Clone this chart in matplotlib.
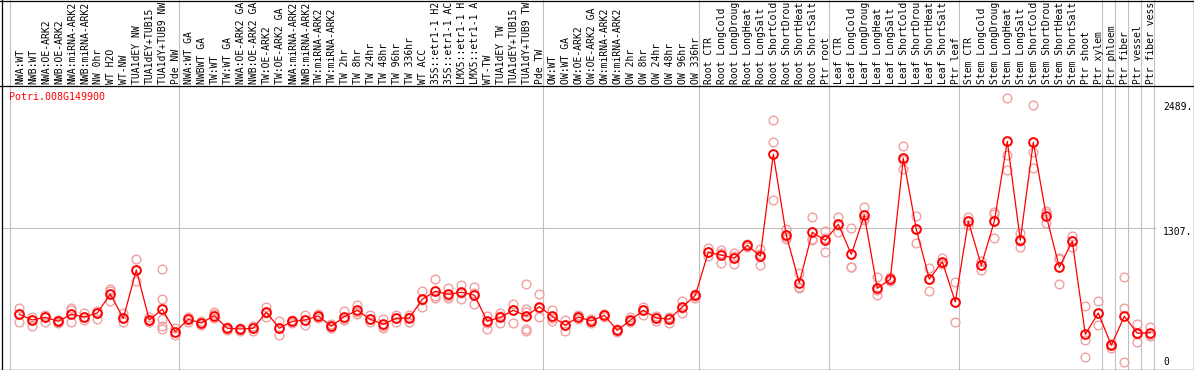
import matplotlib.pyplot as plt
from matplotlib.lines import Line2D

gene = 'Potri.008G149900'

# sample labels, one per column, split into the boxed groups
group_labels = [
    ['NWA:WT', 'NWB:WT', 'NWA:OE-ARK2', 'NWB:OE-ARK2', 'NWA:miRNA-ARK2',
     'NWB:miRNA-ARK2', 'NW 0hr', 'WT H2O', 'WT-NW', 'TUA1dEY NW',
     'TUA1dEY+TUB15', 'TUA1dY+TUB9 NW', 'Pde NW'],
    ['NWA:WT GA', 'NWBWT GA', 'TW:WT', 'TW:WT GA', 'NWA:OE-ARK2 GA',
     'NWB:OE-ARK2 GA', 'TW:OE-ARK2', 'TW:OE-ARK2 GA', 'NWA:miRNA-ARK2',
     'NWB:miRNA-ARK2', 'TW:miRNA-ARK2', 'TW:miRNA-ARK2', 'TW 2hr', 'TW 8hr',
     'TW 24hr', 'TW 48hr', 'TW 96hr', 'TW 336hr', 'WT ACC',
     '35S::etr1-1 H2O', '35S::etr1-1 ACC', 'LMX5::etr1-1 H2O',
     'LMX5::etr1-1 ACC', 'WT-TW', 'TUA1dEY TW', 'TUA1dEY+TUB15',
     'TUA1dY+TUB9 TW', 'Pde TW'],
    ['OW:WT', 'OW:WT GA', 'OW:OE-ARK2', 'OW:OE-ARK2 GA', 'OW:miRNA-ARK2',
     'OW:miRNA-ARK2', 'OW 2hr', 'OW 8hr', 'OW 24hr', 'OW 48hr', 'OW 96hr',
     'OW 336hr'],
    ['Root CTR', 'Root LongCold', 'Root LongDrought', 'Root LongHeat',
     'Root LongSalt', 'Root ShortCold', 'Root ShortDrought', 'Root ShortHeat',
     'Root ShortSalt', 'Ptr root'],
    ['Leaf CTR', 'Leaf LongCold', 'Leaf LongDrought', 'Leaf LongHeat',
     'Leaf LongSalt', 'Leaf ShortCold', 'Leaf ShortDrought', 'Leaf ShortHeat',
     'Leaf ShortSalt', 'Ptr leaf'],
    ['Stem CTR', 'Stem LongCold', 'Stem LongDrought', 'Stem LongHeat',
     'Stem LongSalt', 'Stem ShortCold', 'Stem ShortDrought', 'Stem ShortHeat',
     'Stem ShortSalt', 'Ptr shoot', 'Ptr xylem'],
    ['Ptr phloem'],
    ['Ptr fiber'],
    ['Ptr vessel'],
    ['Ptr fiber vessel'],
]

# mean expression per sample
means = [465, 410, 436, 397, 465, 439, 478, 663, 426, 897, 410, 514, 296,
         416, 380, 452, 329, 322, 329, 485, 329, 397, 410, 449, 348, 442,
         504, 416, 368, 426, 429, 612, 690, 660, 680, 653, 397, 436, 504,
         449, 539,
         446, 358, 439, 400, 455, 309, 407, 504, 429, 419, 536, 649,
         1070, 1042, 1014, 1138, 1032, 2026, 1236, 773, 1265, 1187,
         1343, 1050, 1431, 719, 807, 1987, 1294, 809, 978, 585,
         1372, 943, 1372, 2152, 1187, 2143, 1424, 924, 1177, 270, 478,
         163, 446, 280, 286]

# individual replicates per sample
replicates = [
    [527, 465, 393], [442, 410, 351], [458, 436, 393], [410, 393, 385],
    [524, 507, 393], [478, 442, 410], [500, 478, 422], [712, 695, 598],
    [475, 426, 387], [1002, 897, 790], [442, 410, 393],
    [904, 612, 419, 351, 322], [329, 296, 263],
    [442, 416, 393], [400, 380, 361], [491, 468, 426], [346, 329, 312],
    [336, 322, 307], [351, 305, 329], [533, 481, 439], [400, 329, 260],
    [414, 397, 380], [458, 410, 361], [468, 449, 429], [366, 348, 332],
    [497, 419, 410], [556, 465, 491], [458, 416, 393], [422, 329, 351],
    [458, 393, 429], [458, 390, 439], [692, 539, 605], [807, 621, 644],
    [719, 621, 641], [751, 617, 673], [729, 563, 673], [449, 319, 380],
    [481, 377, 449], [563, 377, 507], [761, 514, 491, 319, 305],
    [660, 436, 527],
    [507, 403, 429], [410, 305, 361], [454, 439, 424], [416, 383, 400],
    [473, 455, 439], [322, 309, 297], [442, 390, 400], [539, 458, 512],
    [449, 403, 434], [442, 383, 429], [595, 481, 531], [663, 647, 629],
    [1109, 1034, 1068], [1092, 968, 1063], [1060, 953, 1029],
    [1148, 1126, 1138], [1099, 943, 1053], [2357, 2143, 1580],
    [1294, 1197, 1219], [871, 719, 731], [1411, 1190, 1195],
    [1278, 1070, 1209],
    [1411, 1271, 1336], [1304, 929, 922], [1509, 1385, 1404],
    [832, 656, 707], [826, 807, 790], [2107, 1882, 1972],
    [1421, 1158, 1297], [914, 692, 809], [1017, 978, 956], [777, 387, 585],
    [1414, 1372, 1336], [988, 897, 946], [1460, 1209, 1448],
    [2572, 2016, 1870], [1261, 1119, 1180], [2507, 2045, 1889],
    [1450, 1353, 1468], [1011, 761, 1000], [1229, 1185, 1122],
    [543, 212, 49], [595, 358, 478],
    [134, 176, 180], [826, 524, 0], [371, 192, 273], [341, 254, 268],
]

y_ticks = [0, 1307, 2489]
y_tick_labels = ['0', '1307.', '2489.']

# figure geometry in pixels
W, H = 1194, 370
col_w = 13.0
x0 = 19.3          # pixel x of first sample
y_zero = 362.0     # pixel y of value 0
px_per_unit = 0.10253
max_chars = 14     # the header only shows this many characters

fig = plt.figure(figsize=(W / 100, H / 100), dpi=100)
ax = fig.add_axes([0, 0, 1, 1])
ax.set_xlim(-x0 / col_w, (W - x0) / col_w)
ax.set_ylim(-(H - y_zero) / px_per_unit, y_zero / px_per_unit)
ax.axis('off')


def fy(p):
    # pixel row (from top) -> axes fraction
    return 1 - p / H


def fx(p):
    return p / W


mono = 'DejaVu Sans Mono'
grey = '#c0c0c0'
n = len(means)
xs = list(range(n))

# group separators
edge = 0
bounds = [0]
for g in group_labels:
    edge += len(g)
    bounds.append(edge)
for b in bounds:
    ax.axvline(b - 0.69, color=grey, lw=0.8, zorder=1)

# gridline at the middle tick
ax.hlines(y_ticks[1], (1 - x0) / col_w, (1156 - x0) / col_w, color=grey,
          lw=0.8, zorder=1)

# column labels
labels = [lab for g in group_labels for lab in g]
for i, lab in enumerate(labels):
    ax.text(i + 0.05, fy(84), lab[:max_chars],
            transform=ax.get_xaxis_transform(),
            rotation=90, ha='center', va='bottom', family=mono, fontsize=7,
            color='black', clip_on=False)

# header line and frame
for line in [([0, 1], [fy(85.5), fy(85.5)]),
             ([0, 1], [fy(0.5), fy(0.5)]),
             ([0, 1], [fy(369.5), fy(369.5)]),
             ([fx(1.5), fx(1.5)], [0, 1]),
             ([fx(1193.5), fx(1193.5)], [0, 1])]:
    ax.add_line(Line2D(line[0], line[1], transform=ax.transAxes,
                       color='black', lw=0.9, clip_on=False, zorder=5))

ax.text(fx(9.5), fy(97), gene, transform=ax.transAxes, family=mono,
        fontsize=7.2, color='red', ha='left', va='center')

# right axis labels
offsets = [0, 4.5, 0]
for t, lab, off in zip(y_ticks, y_tick_labels, offsets):
    ax.annotate(lab, (fx(1163), t), xycoords=('axes fraction', 'data'),
                xytext=(0, -off * 0.72), textcoords='offset points',
                family=mono, fontsize=7, ha='left', va='center')

# replicate points
for i, reps in enumerate(replicates):
    ax.plot([i] * len(reps), reps, 'o', ms=6.3, mfc='none', mec='#f0a0a0',
            mew=1.0, zorder=2)

# mean line and markers
ax.plot(xs, means, '-', color='red', lw=0.9, zorder=3)
ax.plot(xs, means, 'o', ms=6.3, mfc='none', mec='red', mew=1.4, zorder=4)

fig.savefig('out.png', dpi=100)
